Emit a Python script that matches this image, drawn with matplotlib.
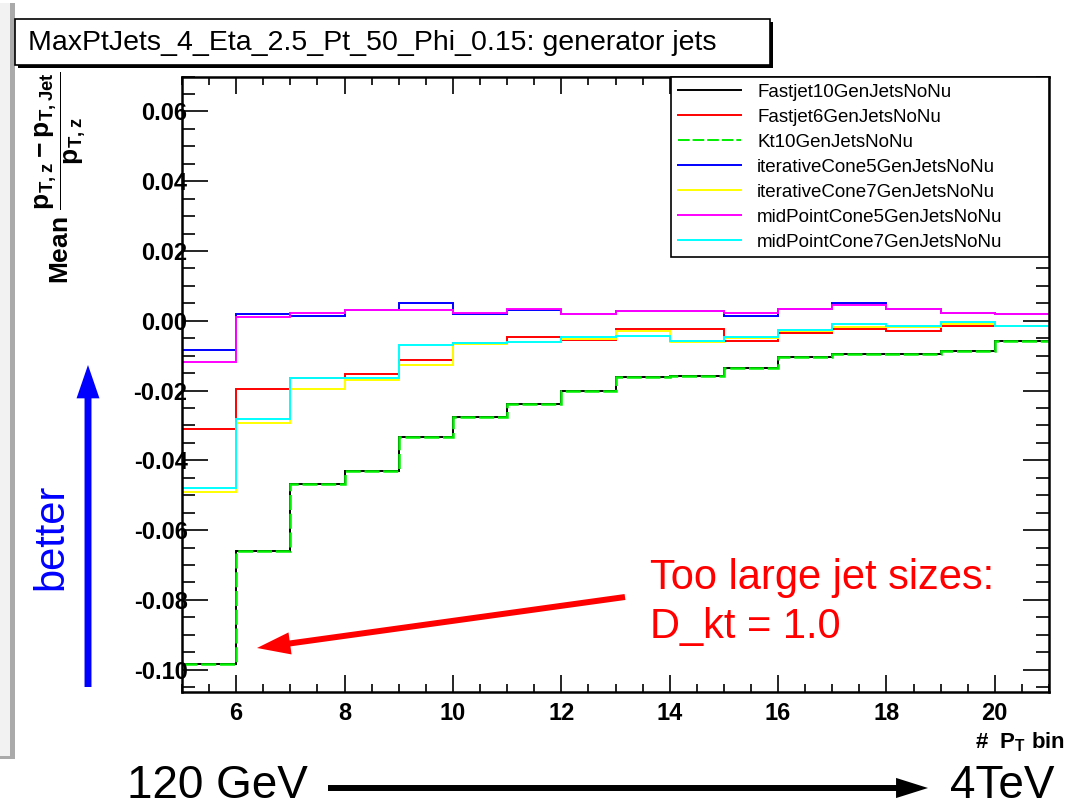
import numpy as np
import matplotlib
matplotlib.use("Agg")
import matplotlib.pyplot as plt
from matplotlib.lines import Line2D
from matplotlib.patches import Rectangle, FancyArrowPatch
from matplotlib.transforms import IdentityTransform
from matplotlib.ticker import MultipleLocator, FuncFormatter

W, H = 1091, 811

plt.rcParams["font.family"] = ["Liberation Sans", "DejaVu Sans"]
plt.rcParams["mathtext.default"] = "regular"
plt.rcParams["axes.unicode_minus"] = False

TITLE = "MaxPtJets_4_Eta_2.5_Pt_50_Phi_0.15: generator jets"

# pT bins (bin number), unit width
bin_edges = [5, 6, 7, 8, 9, 10, 11, 12, 13, 14, 15, 16, 17, 18, 19, 20, 21]

fastjet10 = [-0.0983, -0.0661, -0.0468, -0.0431, -0.0332, -0.0276, -0.0239, -0.0200,
             -0.0162, -0.0157, -0.0135, -0.0103, -0.0096, -0.0096, -0.0086, -0.0059]
fastjet6 = [-0.0310, -0.0195, -0.0163, -0.0152, -0.0113, -0.0065, -0.0047, -0.0056,
            -0.0025, -0.0025, -0.0059, -0.0035, -0.0025, -0.0030, -0.0016, -0.0016]
kt10 = [-0.0983, -0.0661, -0.0468, -0.0431, -0.0332, -0.0276, -0.0239, -0.0200,
        -0.0162, -0.0157, -0.0135, -0.0103, -0.0096, -0.0096, -0.0086, -0.0059]
itcone5 = [-0.0085, 0.0018, 0.0014, 0.0030, 0.0051, 0.0020, 0.0031, 0.0019,
           0.0029, 0.0029, 0.0014, 0.0033, 0.0050, 0.0035, 0.0023, 0.0019]
itcone7 = [-0.0491, -0.0292, -0.0195, -0.0169, -0.0128, -0.0066, -0.0062, -0.0051,
           -0.0030, -0.0062, -0.0049, -0.0030, -0.0017, -0.0017, -0.0009, -0.0016]
midcone5 = [-0.0118, 0.0012, 0.0023, 0.0031, 0.0030, 0.0023, 0.0034, 0.0019,
            0.0029, 0.0029, 0.0023, 0.0033, 0.0045, 0.0035, 0.0023, 0.0019]
midcone7 = [-0.0480, -0.0282, -0.0164, -0.0164, -0.0070, -0.0064, -0.0060, -0.0047,
            -0.0045, -0.0059, -0.0047, -0.0026, -0.0009, -0.0014, -0.0004, -0.0016]

series = [
    ("Fastjet10GenJetsNoNu", fastjet10, "black", "-"),
    ("Fastjet6GenJetsNoNu", fastjet6, "#ff0000", "-"),
    ("Kt10GenJetsNoNu", kt10, "#00ee00", (0, (6, 1.5))),
    ("iterativeCone5GenJetsNoNu", itcone5, "#0000ff", "-"),
    ("iterativeCone7GenJetsNoNu", itcone7, "#ffff00", "-"),
    ("midPointCone5GenJetsNoNu", midcone5, "#ff00ff", "-"),
    ("midPointCone7GenJetsNoNu", midcone7, "#00ffff", "-"),
]


def fx(x):
    return x / W


def fy(y):
    # pixel rows counted from the top of the picture
    return 1 - y / H


def ytick_fmt(v, pos):
    v = round(v, 4)
    if v == 0:
        v = 0.0
    return f"{v:.2f}"


fig = plt.figure(figsize=(W / 100, H / 100), dpi=100)

# grey canvas border on the far left
fig.add_artist(Rectangle((fx(0), fy(757)), fx(10), fy(3) - fy(757),
                         transform=fig.transFigure, facecolor="#f2f2f2", edgecolor="none"))
fig.add_artist(Rectangle((fx(10), fy(759)), fx(5), fy(3) - fy(759),
                         transform=fig.transFigure, facecolor="#aaaaaa", edgecolor="none"))
fig.add_artist(Rectangle((fx(0), fy(759)), fx(15), fy(756) - fy(759),
                         transform=fig.transFigure, facecolor="#aaaaaa", edgecolor="none"))

# title box with shadow
fig.add_artist(Rectangle((fx(18), fy(68)), fx(755), fy(22) - fy(68),
                         transform=fig.transFigure, facecolor="black", edgecolor="none"))
fig.add_artist(Rectangle((fx(15), fy(65)), fx(755), fy(19) - fy(65),
                         transform=fig.transFigure, facecolor="white", edgecolor="black", lw=1.2))
fig.text(fx(28), fy(43), TITLE, fontsize=20.5, ha="left", va="center")

ax = fig.add_axes([fx(182), fy(692), fx(1049) - fx(182), fy(76.5) - fy(692)])

for name, vals, color, ls in series:
    lw = 1.8 if name.startswith("Kt") else 1.4
    ax.stairs(vals, bin_edges, baseline=None, color=color, lw=lw, linestyle=ls)

ax.set_xlim(5, 21)
ax.set_ylim(-0.1064, 0.0700)

ax.xaxis.set_major_locator(MultipleLocator(2))
ax.xaxis.set_minor_locator(MultipleLocator(0.5))
ax.yaxis.set_major_locator(MultipleLocator(0.02))
ax.yaxis.set_minor_locator(MultipleLocator(0.005))
ax.yaxis.set_major_formatter(FuncFormatter(ytick_fmt))

ax.tick_params(axis="both", which="both", direction="in", top=True, right=True,
               width=1.2, color="black")
ax.tick_params(axis="x", which="major", length=12, pad=7)
ax.tick_params(axis="x", which="minor", length=6)
ax.tick_params(axis="y", which="major", length=19, pad=-4)
ax.tick_params(axis="y", which="minor", length=9.5)
for lab in ax.get_xticklabels() + ax.get_yticklabels():
    lab.set_fontsize(17)
    lab.set_fontweight("bold")
for sp in ax.spines.values():
    sp.set_linewidth(1.8)

handles = [Line2D([], [], color=c, lw=1.4, linestyle=ls) for _, _, c, ls in series]
labels = [s[0] for s in series]
leg = ax.legend(handles, labels, loc="upper left",
                bbox_to_anchor=(fx(671), fy(252.5), fx(1049) - fx(671), fy(77) - fy(252.5)),
                bbox_transform=fig.transFigure, mode="expand", fancybox=False,
                edgecolor="black", framealpha=1, fontsize=13.5, handlelength=3.4,
                handletextpad=0.85, labelspacing=0.42, borderpad=0.35, borderaxespad=0)
leg.get_frame().set_linewidth(1.2)

# axis titles
fig.text(fx(61), fy(178), r"Mean $\dfrac{p_{T,z} - p_{T,Jet}}{p_{T,z}}$",
         rotation=90, fontsize=19, fontweight="bold", ha="center", va="center")
fig.text(fx(1065), fy(742), r"#  $P_{T}$ bin", fontsize=16, fontweight="bold",
         ha="right", va="center")

# slide annotations
fig.text(fx(51), fy(537), "better", rotation=90, fontsize=30, color="#0000ff",
         ha="center", va="center")
fig.text(fx(650), fy(578), "Too large jet sizes:", fontsize=30, color="#ff0000",
         ha="left", va="center")
fig.text(fx(650), fy(627), "D_kt = 1.0", fontsize=30, color="#ff0000",
         ha="left", va="center")
fig.text(fx(127), fy(786), "120 GeV", fontsize=33, ha="left", va="center")
fig.text(fx(950), fy(786), "4TeV", fontsize=33, ha="left", va="center")


def pix_arrow(x0, y0, x1, y1, color, tail, hw, hl):
    arr = FancyArrowPatch((x0, H - y0), (x1, H - y1), transform=IdentityTransform(),
                          arrowstyle=f"simple,head_length={hl},head_width={hw},tail_width={tail}",
                          mutation_scale=1, color=color, shrinkA=0, shrinkB=0, lw=0)
    fig.add_artist(arr)


pix_arrow(88, 687, 88, 365, "#0000ff", 5, 16.5, 24)
pix_arrow(625, 597, 257, 648, "#ff0000", 4.3, 16, 24)
pix_arrow(328, 788, 928, 788, "black", 4.3, 14.5, 23)

fig.savefig("out.png", dpi=100)
